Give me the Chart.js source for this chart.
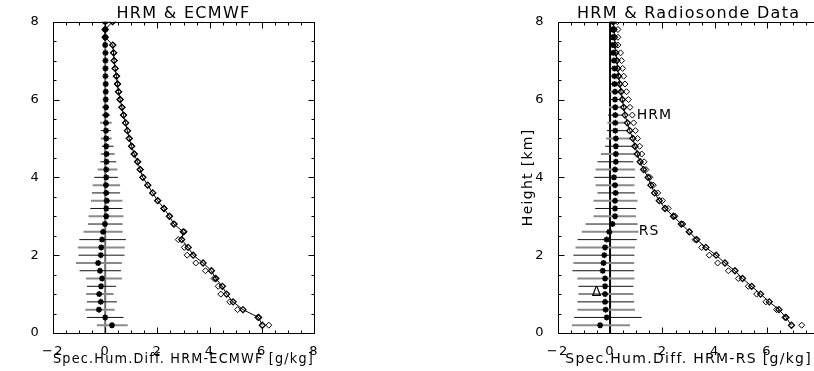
<!DOCTYPE html>
<html>
<head>
<meta charset="utf-8">
<script src="https://cdn.jsdelivr.net/npm/chart.js@4.4.0/dist/chart.umd.min.js"></script>
<style>
    html, body {margin: 0; padding: 0; background: #fff; overflow: hidden; width: 814px; height: 371px;}
    canvas {position: absolute; top: 0;}
    #cLeft {left: 0;}
    #cRight {left: 510px;}
</style>
</head>
<body>
<canvas id="cLeft" width="330" height="371"></canvas>
<canvas id="cRight" width="330" height="371"></canvas>
<script>
// ─── data ───────────────────────────────────────────────────────────────────

const heights = [0.2, 0.4, 0.6, 0.8, 1.0, 1.2, 1.4, 1.6, 1.8, 2.0,
                 2.2, 2.4, 2.6, 2.8, 3.0, 3.2, 3.4, 3.6, 3.8, 4.0,
                 4.2, 4.4, 4.6, 4.8, 5.0, 5.2, 5.4, 5.6, 5.8, 6.0,
                 6.2, 6.4, 6.6, 6.8, 7.0, 7.2, 7.4, 7.6, 7.8, 8.0];
const xTicks = [-2, 0, 2, 4, 6, 8];
const yTicks = [0, 2, 4, 6, 8];

// HRM & ECMWF
const ecmMeanDiff = [0.26, 0.00, -0.24, -0.17, -0.23, -0.16, -0.12, -0.20, -0.27, -0.17,
                     -0.15, -0.12, -0.08, -0.01, 0.04, 0.04, 0.06, 0.04, 0.03, 0.04,
                     0.04, 0.05, 0.05, 0.04, 0.04, 0.03, 0.03, 0.03, 0.03, 0.02,
                     0.02, 0.02, 0.01, 0.01, 0.01, 0.01, 0.00, 0.00, 0.00, 0.00];
const ecmDiffLo = [-0.32, -0.70, -0.76, -0.70, -0.73, -0.70, -0.74, -0.98, -1.12, -1.02,
                   -1.05, -0.99, -0.83, -0.66, -0.64, -0.57, -0.55, -0.51, -0.48, -0.42,
                   -0.29, -0.19, -0.17, -0.13, -0.17, -0.17, -0.20, -0.13, -0.13, -0.08,
                   -0.06, -0.06, -0.05, -0.05, -0.04, -0.04, -0.03, -0.03, -0.02, -0.02];
const ecmDiffHi = [0.86, 0.70, 0.36, 0.45, 0.32, 0.41, 0.64, 0.61, 0.64, 0.74,
                   0.75, 0.79, 0.67, 0.67, 0.70, 0.66, 0.66, 0.57, 0.57, 0.49,
                   0.47, 0.42, 0.36, 0.32, 0.25, 0.22, 0.25, 0.19, 0.13, 0.10,
                   0.08, 0.08, 0.07, 0.07, 0.06, 0.06, 0.05, 0.04, 0.03, 0.03];
const ecmHrmHum = [6.02, 5.88, 5.28, 4.90, 4.65, 4.49, 4.24, 4.07, 3.75, 3.37,
                   3.18, 2.93, 2.99, 2.63, 2.46, 2.25, 2.01, 1.82, 1.63, 1.44,
                   1.34, 1.24, 1.11, 1.01, 0.92, 0.85, 0.78, 0.70, 0.64, 0.57,
                   0.51, 0.47, 0.43, 0.38, 0.34, 0.32, 0.29, 0.00, 0.00, 0.28];
const ecmwfHum = [6.27, 5.85, 5.07, 4.77, 4.43, 4.33, 4.17, 3.84, 3.47, 3.14,
                  3.03, 2.80, 3.03, 2.65, 2.47, 2.26, 2.02, 1.83, 1.64, 1.45,
                  1.35, 1.25, 1.12, 1.02, 0.93, 0.86, 0.79, 0.71, 0.65, 0.58,
                  0.52, 0.48, 0.44, 0.39, 0.35, 0.33, 0.30, 0.00, 0.00, 0.29];

// HRM & Radiosonde
const rsMeanDiff = [-0.38, -0.13, -0.17, -0.19, -0.19, -0.19, -0.19, -0.28, -0.25, -0.22,
                    -0.19, -0.13, -0.03, 0.09, 0.19, 0.19, 0.19, 0.21, 0.19, 0.15,
                    0.19, 0.22, 0.22, 0.22, 0.22, 0.20, 0.20, 0.20, 0.20, 0.19,
                    0.19, 0.17, 0.17, 0.17, 0.15, 0.12, 0.10, 0.10, 0.10, 0.10];
const rsDiffLo = [-1.46, -1.37, -1.25, -1.25, -1.21, -1.21, -1.25, -1.44, -1.40, -1.40,
                  -1.32, -1.24, -1.08, -0.93, -0.63, -0.57, -0.63, -0.48, -0.55, -0.60,
                  -0.55, -0.48, -0.35, -0.19, -0.15, -0.12, -0.10, -0.08, -0.04, -0.02,
                  0.00, 0.02, 0.03, 0.03, 0.04, 0.04, 0.04, 0.04, 0.04, 0.05];
const rsDiffHi = [0.76, 1.21, 0.95, 0.92, 0.89, 0.89, 0.93, 0.92, 0.92, 0.93,
                  0.95, 1.02, 1.08, 1.05, 0.99, 0.99, 1.05, 0.95, 0.93, 0.95,
                  0.95, 0.89, 0.95, 0.90, 0.78, 0.68, 0.60, 0.50, 0.45, 0.42,
                  0.40, 0.36, 0.34, 0.32, 0.30, 0.26, 0.22, 0.20, 0.18, 0.16];
const rsHrmHum = [6.93, 6.72, 6.45, 6.08, 5.75, 5.41, 5.06, 4.77, 4.39, 4.05,
                  3.66, 3.31, 3.03, 2.72, 2.42, 2.10, 1.88, 1.70, 1.56, 1.45,
                  1.28, 1.15, 1.04, 0.95, 0.87, 0.75, 0.66, 0.57, 0.52, 0.47,
                  0.42, 0.37, 0.33, 0.29, 0.26, 0.22, 0.19, 0.17, 0.15, 0.13];
const rsSondeHum = [7.32, 6.68, 6.36, 5.95, 5.60, 5.28, 4.90, 4.52, 4.11, 3.79,
                    3.50, 3.25, 3.02, 2.78, 2.48, 2.22, 2.00, 1.82, 1.65, 1.52,
                    1.37, 1.30, 1.21, 1.13, 1.05, 0.97, 0.90, 0.85, 0.76, 0.70,
                    0.63, 0.57, 0.52, 0.48, 0.44, 0.40, 0.30, 0.30, 0.30, 0.28];

const rsNotes = [
    {text: 'HRM', x: 1.02, y: 5.6},
    {text: 'RS', x: 1.10, y: 2.6},
    {text: 'Δ', x: -0.70, y: 1.05},
];

// ─── helpers ────────────────────────────────────────────────────────────────

const FONT = 'DejaVu Sans';
Chart.defaults.font.family = FONT;
Chart.defaults.color = '#000';

const pts = vals => vals.map((v, i) => ({x: v, y: heights[i]}));

// one dataset for all error bars, broken up by null points
function barPts(lo, hi) {
    const out = [];
    heights.forEach((h, i) => {
        out.push({x: lo[i], y: h}, {x: hi[i], y: h}, {x: hi[i], y: null});
    });
    return out;
}

// IDL-style box with inward ticks + text notes
const idlBox = {
    id: 'idlBox',
    beforeDraw(chart) {
        chart.ctx.letterSpacing = '1.3px';
    },
    afterDatasetsDraw(chart, args, opts) {
        const {ctx, chartArea: a, scales: {x, y}} = chart;
        const L = Math.round(a.left) + 0.5, R = Math.round(a.right) + 0.5;
        const T = Math.round(a.top) + 0.5, B = Math.round(a.bottom) + 0.5;
        ctx.save();
        ctx.strokeStyle = '#000';
        ctx.lineWidth = 1;
        ctx.beginPath();
        ctx.rect(L, T, R - L, B - T);
        for (let v = x.min; v <= x.max + 1e-6; v += 0.5) {
            const px = Math.round(x.getPixelForValue(v)) + 0.5;
            const len = Math.abs(v % 2) < 1e-6 ? 6 : 3;
            ctx.moveTo(px, B); ctx.lineTo(px, B - len);
            ctx.moveTo(px, T); ctx.lineTo(px, T + len);
        }
        for (let v = y.min; v <= y.max + 1e-6; v += 0.5) {
            const py = Math.round(y.getPixelForValue(v)) + 0.5;
            const len = Math.abs(v % 2) < 1e-6 ? 6 : 3;
            ctx.moveTo(L, py); ctx.lineTo(L + len, py);
            ctx.moveTo(R, py); ctx.lineTo(R - len, py);
        }
        ctx.stroke();

        ctx.font = `14px "${FONT}"`;
        ctx.letterSpacing = '1px';
        ctx.fillStyle = '#000';
        ctx.textAlign = 'left';
        ctx.textBaseline = 'middle';
        (opts.notes || []).forEach(n => {
            ctx.fillText(n.text, x.getPixelForValue(n.x), y.getPixelForValue(n.y));
        });
        ctx.restore();
    }
};

function makePanel(canvasId, cfg) {
    const ctx = document.getElementById(canvasId).getContext('2d');
    return new Chart(ctx, {
        type: 'line',
        data: {
            datasets: [
                {   // mean difference
                    data: pts(cfg.mean),
                    showLine: false,
                    pointStyle: 'star',
                    pointRadius: 3,
                    pointBorderWidth: 1.6,
                    borderColor: '#000',
                    backgroundColor: '#000',
                },
                {   // HRM profile
                    data: pts(cfg.hrm),
                    borderColor: '#000',
                    borderWidth: 1,
                    tension: 0,
                    pointStyle: 'rectRot',
                    pointRadius: 3,
                    pointBorderWidth: 1.3,
                    pointBackgroundColor: 'rgba(0,0,0,0)',
                    pointBorderColor: '#000',
                },
                {   // reference profile
                    data: pts(cfg.ref),
                    showLine: false,
                    pointStyle: 'rectRot',
                    pointRadius: 3,
                    pointBorderWidth: 1,
                    pointBackgroundColor: '#fff',
                    pointBorderColor: '#000',
                },
                {   // std dev bars
                    data: barPts(cfg.lo, cfg.hi),
                    pointRadius: 0,
                    borderColor: '#000',
                    borderWidth: 1,
                    segment: {
                        borderColor: c => (Math.floor(c.p0DataIndex / 3) % 2 ? '#111' : '#8a8a8a'),
                        borderWidth: c => (Math.floor(c.p0DataIndex / 3) % 2 ? 1 : 2),
                    },
                },
                {   // zero line
                    data: [{x: 0, y: 0}, {x: 0, y: 8}],
                    pointRadius: 0,
                    borderColor: cfg.zeroColor,
                    borderWidth: 2,
                },
            ],
        },
        options: {
            responsive: false,
            animation: false,
            events: [],
            layout: {padding: {top: 21.5, right: cfg.padRight, left: 0, bottom: 0}},
            plugins: {
                legend: {display: false},
                tooltip: {enabled: false},
                title: {
                    display: true,
                    text: cfg.title,
                    fullSize: false,
                    font: {size: 16, weight: 'normal', lineHeight: 1.2},
                    padding: {top: -17, bottom: -2},
                },
                idlBox: {notes: cfg.notes || []},
            },
            scales: {
                x: {
                    type: 'linear',
                    min: -2, max: 8,
                    afterBuildTicks: s => { s.ticks = xTicks.map(v => ({value: v})); },
                    afterFit: s => { s.height = 38; },
                    grid: {display: false},
                    border: {display: false},
                    ticks: {font: {size: 13}, padding: 3, maxRotation: 0, autoSkip: false,
                            callback: v => (v < 0 ? '\u2212' + (-v) : String(v))},
                    title: {display: true, text: cfg.xTitle, font: {size: 14},
                            padding: {top: 0, bottom: 3}},
                },
                y: {
                    type: 'linear',
                    min: 0, max: 8,
                    afterBuildTicks: s => { s.ticks = yTicks.map(v => ({value: v})); },
                    afterFit: s => { s.width = cfg.yWidth; },
                    grid: {display: false},
                    border: {display: false},
                    ticks: {font: {size: 13}, padding: 5},
                    title: {display: !!cfg.yTitle, text: cfg.yTitle || '', font: {size: 14},
                            padding: {top: 9.6, bottom: 0}},
                },
            },
        },
        plugins: [idlBox],
    });
}

makePanel('cLeft', {
    title: 'HRM & ECMWF',
    xTitle: 'Spec.Hum.Diff. HRM-ECMWF [g/kg]',
    mean: ecmMeanDiff, lo: ecmDiffLo, hi: ecmDiffHi,
    hrm: ecmHrmHum, ref: ecmwfHum,
    zeroColor: '#6e6e6e',
    yWidth: 53, padRight: 16,
});

makePanel('cRight', {
    title: 'HRM & Radiosonde Data',
    xTitle: 'Spec.Hum.Diff. HRM-RS [g/kg]',
    yTitle: 'Height [km]',
    mean: rsMeanDiff, lo: rsDiffLo, hi: rsDiffHi,
    hrm: rsHrmHum, ref: rsSondeHum,
    notes: rsNotes,
    zeroColor: '#000',
    yWidth: 47.7, padRight: 20.5,
});
</script>
</body>
</html>
